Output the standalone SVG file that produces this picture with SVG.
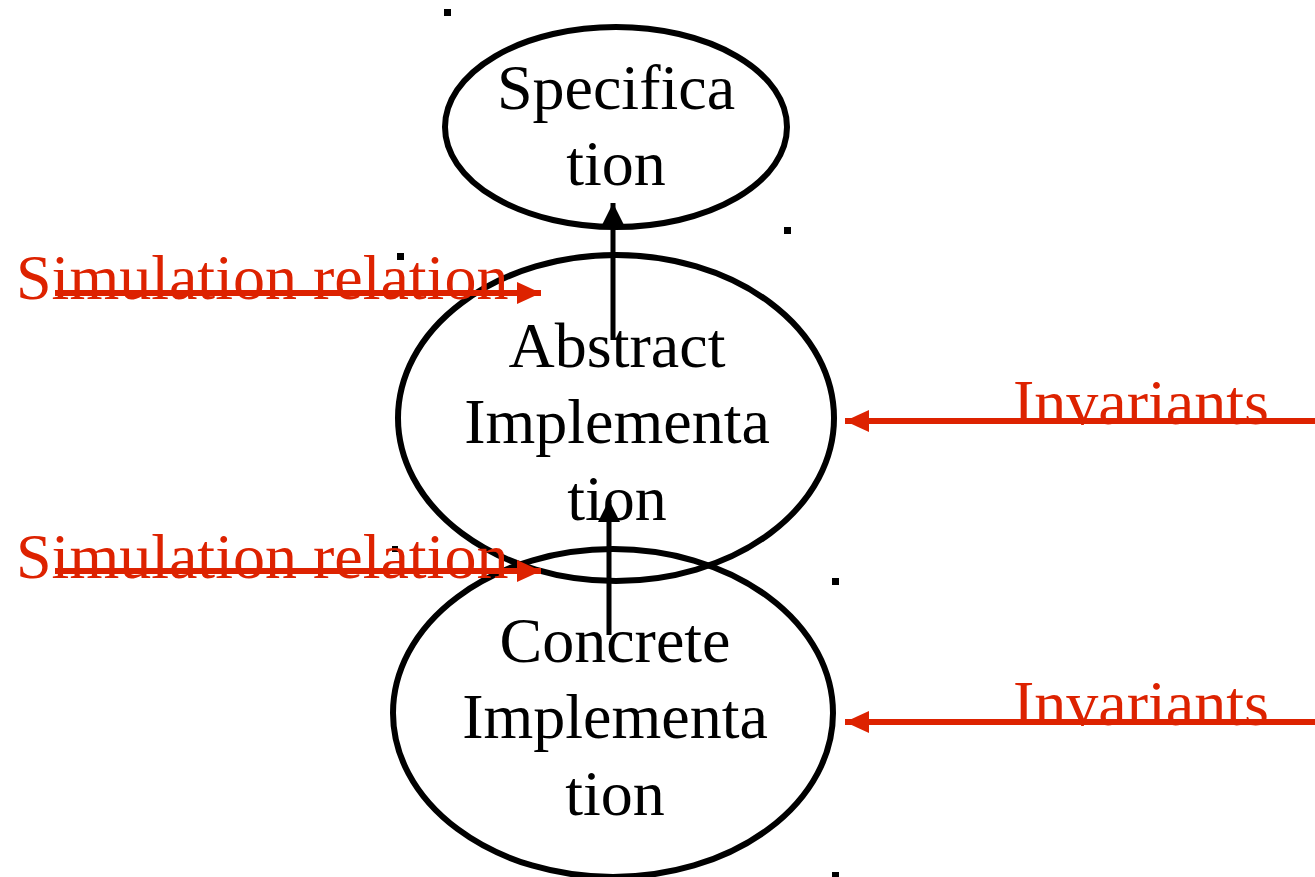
<svg xmlns="http://www.w3.org/2000/svg" width="1315" height="877" viewBox="0 0 1315 877">
  <style>
    .node { fill: none; stroke: #000; stroke-width: 6; }
    .label { font-family: "Liberation Serif", "Times New Roman", serif; font-size: 64px; fill: #000; text-anchor: middle; }
    .rel { font-family: "Liberation Serif", "Times New Roman", serif; font-size: 64px; fill: #dd2200; }
    .up { stroke: #000; stroke-width: 5; fill: none; }
    .red { stroke: #dd2200; stroke-width: 6; fill: none; }
    .dot { fill: #000; }
  </style>
  <defs>
    <marker id="headBlack" markerUnits="userSpaceOnUse" markerWidth="22" markerHeight="22" viewBox="0 0 22 22" refX="22" refY="11" orient="auto">
      <path d="M0,0 L22,11 L0,22 Z" fill="#000"/>
    </marker>
    <marker id="headRed" markerUnits="userSpaceOnUse" markerWidth="24" markerHeight="22" viewBox="0 0 24 22" refX="24" refY="11" orient="auto">
      <path d="M0,0 L24,11 L0,22 Z" fill="#dd2200"/>
    </marker>
  </defs>
  <rect width="1315" height="877" fill="#fff"/>

  <!-- corner handles -->
  <g id="handles">
    <rect class="dot" x="444" y="9" width="7" height="7"/>
    <rect class="dot" x="784" y="227" width="7" height="7"/>
    <rect class="dot" x="397" y="253" width="7" height="7"/>
    <rect class="dot" x="392" y="546" width="6" height="6"/>
    <rect class="dot" x="832" y="578" width="7" height="7"/>
    <rect class="dot" x="832" y="872" width="7" height="5"/>
  </g>

  <g id="specification">
    <ellipse class="node" cx="616" cy="127" rx="171" ry="100"/>
    <text class="label" x="616" y="109">Specifica</text>
    <text class="label" x="616" y="185">tion</text>
  </g>

  <g id="abstract-implementation">
    <ellipse class="node" cx="616" cy="418" rx="218" ry="163"/>
    <text class="label" x="617" y="367">Abstract</text>
    <text class="label" x="617" y="443">Implementa</text>
    <text class="label" x="617" y="520">tion</text>
  </g>

  <g id="concrete-implementation">
    <ellipse class="node" cx="613" cy="713" rx="220" ry="164"/>
    <text class="label" x="615" y="662">Concrete</text>
    <text class="label" x="615" y="738">Implementa</text>
    <text class="label" x="615" y="815">tion</text>
  </g>

  <g id="relation-labels">
    <text class="rel" x="16" y="299">Simulation relation</text>
    <text class="rel" x="16" y="578">Simulation relation</text>
    <text class="rel" x="1013" y="424">Invariants</text>
    <text class="rel" x="1013" y="725">Invariants</text>
  </g>

  <g id="connectors">
    <line class="up" x1="613" y1="340" x2="613" y2="203" marker-end="url(#headBlack)"/>
    <line class="up" x1="609" y1="635" x2="609" y2="500" marker-end="url(#headBlack)"/>
    <line class="red" x1="55" y1="293" x2="541" y2="293" marker-end="url(#headRed)"/>
    <line class="red" x1="55" y1="571" x2="541" y2="571" marker-end="url(#headRed)"/>
    <line class="red" x1="1315" y1="421" x2="845" y2="421" marker-end="url(#headRed)"/>
    <line class="red" x1="1315" y1="722" x2="845" y2="722" marker-end="url(#headRed)"/>
  </g>
</svg>
